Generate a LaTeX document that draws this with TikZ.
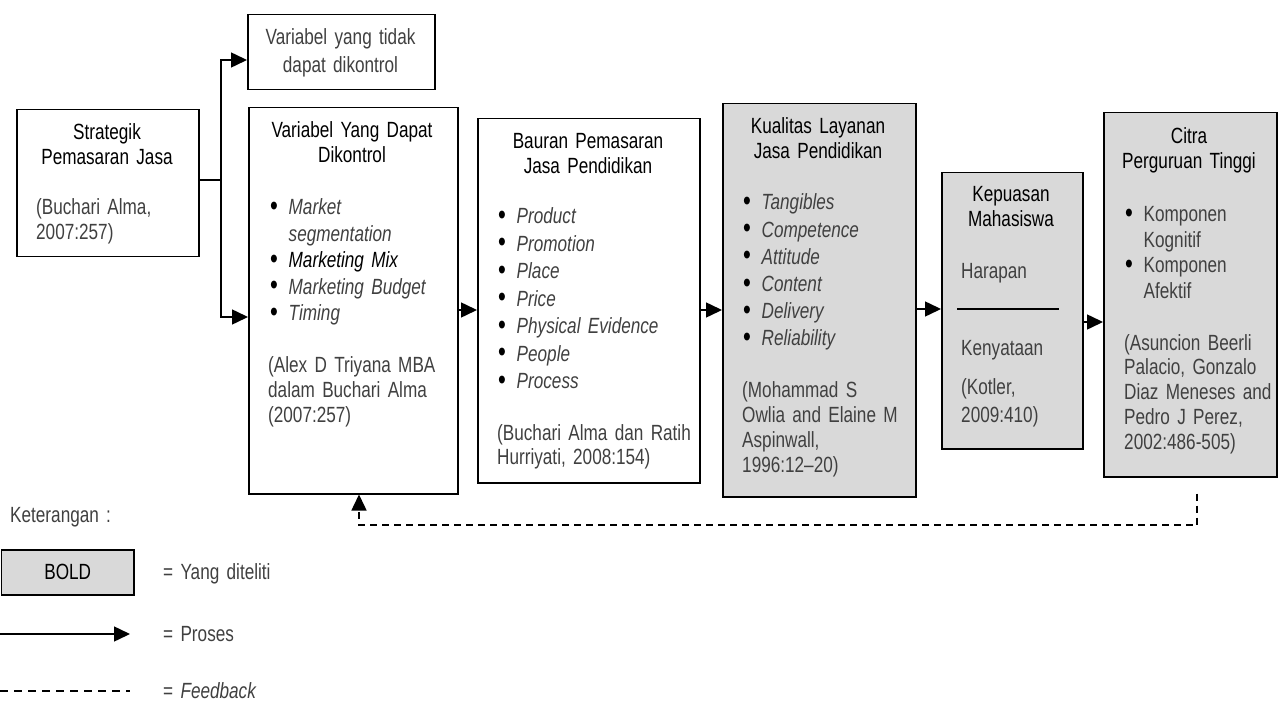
\documentclass[tikz,border=0pt]{standalone}
\usepackage{fontspec}
\setmainfont{Liberation Sans}[FakeStretch=0.78]
\usetikzlibrary{arrows.meta}
\definecolor{boxgray}{HTML}{D9D9D9}
\definecolor{txtgray}{HTML}{404040}
\newcommand{\bul}{\makebox[18.5pt][l]{\color{black}\raisebox{-0.5pt}{\scalebox{1.3}{\textbullet}}}}
\newcommand{\ind}{\hspace*{18.5pt}}
\newcommand{\fsz}[1]{\fontsize{22}{#1}\selectfont\spaceskip=3.2pt plus 1pt\relax}
\begin{document}
\begin{tikzpicture}[x=1pt,y=-1pt,
  box/.style={draw=black, line width=1.5pt, anchor=north west, inner sep=0pt},
  shaded/.style={box, fill=boxgray},
  txt/.style={inner sep=0pt, anchor=base west, text width=240pt, align=left, text=txtgray, font=\fsz{25}},
  head/.style={inner sep=0pt, anchor=base, text width=220pt, align=center, text=black, font=\fsz{24.5}},
  arr/.style={line width=1.5pt, -{Triangle[length=16pt,width=15pt]}},
  ln/.style={line width=1.5pt},
  fb/.style={line width=1.5pt, dash pattern=on 7pt off 5pt, -{Triangle[length=16pt,width=15pt]}}
]
\useasboundingbox (0,0) rectangle (1279,703);

% boxes
\node[box, minimum width=187, minimum height=75] (top) at (247,14) {};
\node[box, minimum width=182, minimum height=147] (b1) at (16,109) {};
\node[box, minimum width=209, minimum height=386] (b2) at (248,107) {};
\node[box, minimum width=222, minimum height=364] (b3) at (477,118) {};
\node[shaded, minimum width=193, minimum height=393] (b4) at (722,103) {};
\node[shaded, minimum width=141, minimum height=276] (b5) at (941,172) {};
\node[shaded, minimum width=173, minimum height=364] (b6) at (1103,112) {};

% top box text
\node[head, text=txtgray, font=\fsz{28}] (topt) at (340.5,45) {Variabel yang tidak\\dapat dikontrol};

% box 1
\node[head] (b1h) at (107,140) {Strategik\\Pemasaran Jasa};
\node[txt] (b1c) at (36,215) {(Buchari Alma,\\2007:257)};

% box 2
\node[head] (b2h) at (352,138) {Variabel Yang Dapat\\Dikontrol};
\node[txt, font=\fsz{26.5}] (b2l) at (270,215) {\bul\textit{Market}\\\ind\textit{segmentation}\\\bul{\color{black}\textit{Marketing Mix}}\\\bul\textit{Marketing Budget}\\\bul\textit{Timing}};
\node[txt] (b2c) at (268,372) {(Alex D Triyana MBA\\dalam Buchari Alma\\(2007:257)};

% box 3
\node[head, font=\fsz{25}] (b3h) at (588,149) {Bauran Pemasaran\\Jasa Pendidikan};
\node[txt, font=\fsz{27.5}] (b3l) at (498,224) {\bul\textit{Product}\\\bul\textit{Promotion}\\\bul\textit{Place}\\\bul\textit{Price}\\\bul\textit{Physical Evidence}\\\bul\textit{People}\\\bul\textit{Process}};
\node[txt, font=\fsz{24}] (b3c) at (497,440) {(Buchari Alma dan Ratih\\Hurriyati, 2008:154)};

% box 4
\node[head, font=\fsz{25}] (b4h) at (818,134) {Kualitas Layanan\\Jasa Pendidikan};
\node[txt, font=\fsz{27.2}] (b4l) at (743,210) {\bul\textit{Tangibles}\\\bul\textit{Competence}\\\bul\textit{Attitude}\\\bul\textit{Content}\\\bul\textit{Delivery}\\\bul\textit{Reliability}};
\node[txt, font=\fsz{25.3}] (b4c) at (742,397) {(Mohammad S\\Owlia and Elaine M\\Aspinwall,\\1996:12--20)};

% box 5
\node[head, font=\fsz{25}] (b5h) at (1011,202) {Kepuasan\\Mahasiswa};
\node[txt] (b5a) at (961,279) {Harapan};
\coordinate (fl) at (957,309);
\coordinate (fr) at (1059,309);
\draw[ln] (fl) -- (fr);
\node[txt] (b5b) at (961,355) {Kenyataan};
\node[txt, font=\fsz{28}] (b5c) at (961,394) {(Kotler,\\2009:410)};

% box 6
\node[head, font=\fsz{25}] (b6h) at (1189,144) {Citra\\Perguruan Tinggi};
\node[txt, font=\fsz{25.5}] (b6l) at (1125,222) {\bul Komponen\\\ind Kognitif\\\bul Komponen\\\ind Afektif};
\node[txt, font=\fsz{24.75}] (b6c) at (1124,350) {(Asuncion Beerli\\Palacio, Gonzalo\\Diaz Meneses and\\Pedro J Perez,\\2002:486-505)};

% connectors
\coordinate (br) at (221,180);
\coordinate (brT) at (221,60);
\coordinate (brB) at (221,317);
\draw[ln] (b1.east |- br) -- (br);
\draw[arr] (br) -- (brT) -- (brT -| top.west);
\draw[arr] (br) -- (brB) -- (brB -| b2.west);
\coordinate (y1) at (0,310);
\draw[arr] (b2.east |- y1) -- (b3.west |- y1);
\draw[arr] (b3.east |- y1) -- (b4.west |- y1);
\coordinate (y2) at (0,309);
\draw[arr] (b4.east |- y2) -- (b5.west |- y2);
\coordinate (y3) at (0,322);
\draw[arr] (b5.east |- y3) -- (b6.west |- y3);

% feedback
\coordinate (fbR) at (1197,525);
\coordinate (fbL) at (359,525);
\draw[fb, shorten <=16pt] (b6.south -| fbR) -- (fbR) -- (fbL) -- (b2.south -| fbL);

% legend
\node[txt] (ket) at (10,522) {Keterangan :};
\node[shaded, minimum width=132.5, minimum height=45] (lb) at (0.75,549) {};
\node[inner sep=0pt, font=\fsz{25}] (lbt) at (lb.center) {BOLD};
\node[txt] (l1) at (163,579) {= Yang diteliti};
\coordinate (pa) at (0,634);
\coordinate (pb) at (130,634);
\draw[arr] (pa) -- (pb);
\node[txt] (l2) at (163,641) {= Proses};
\coordinate (qa) at (0,691);
\coordinate (qb) at (130,691);
\draw[ln, dash pattern=on 8pt off 6pt] (qa) -- (qb);
\node[txt] (l3) at (163,698) {= \textit{Feedback}};
\end{tikzpicture}
\end{document}
